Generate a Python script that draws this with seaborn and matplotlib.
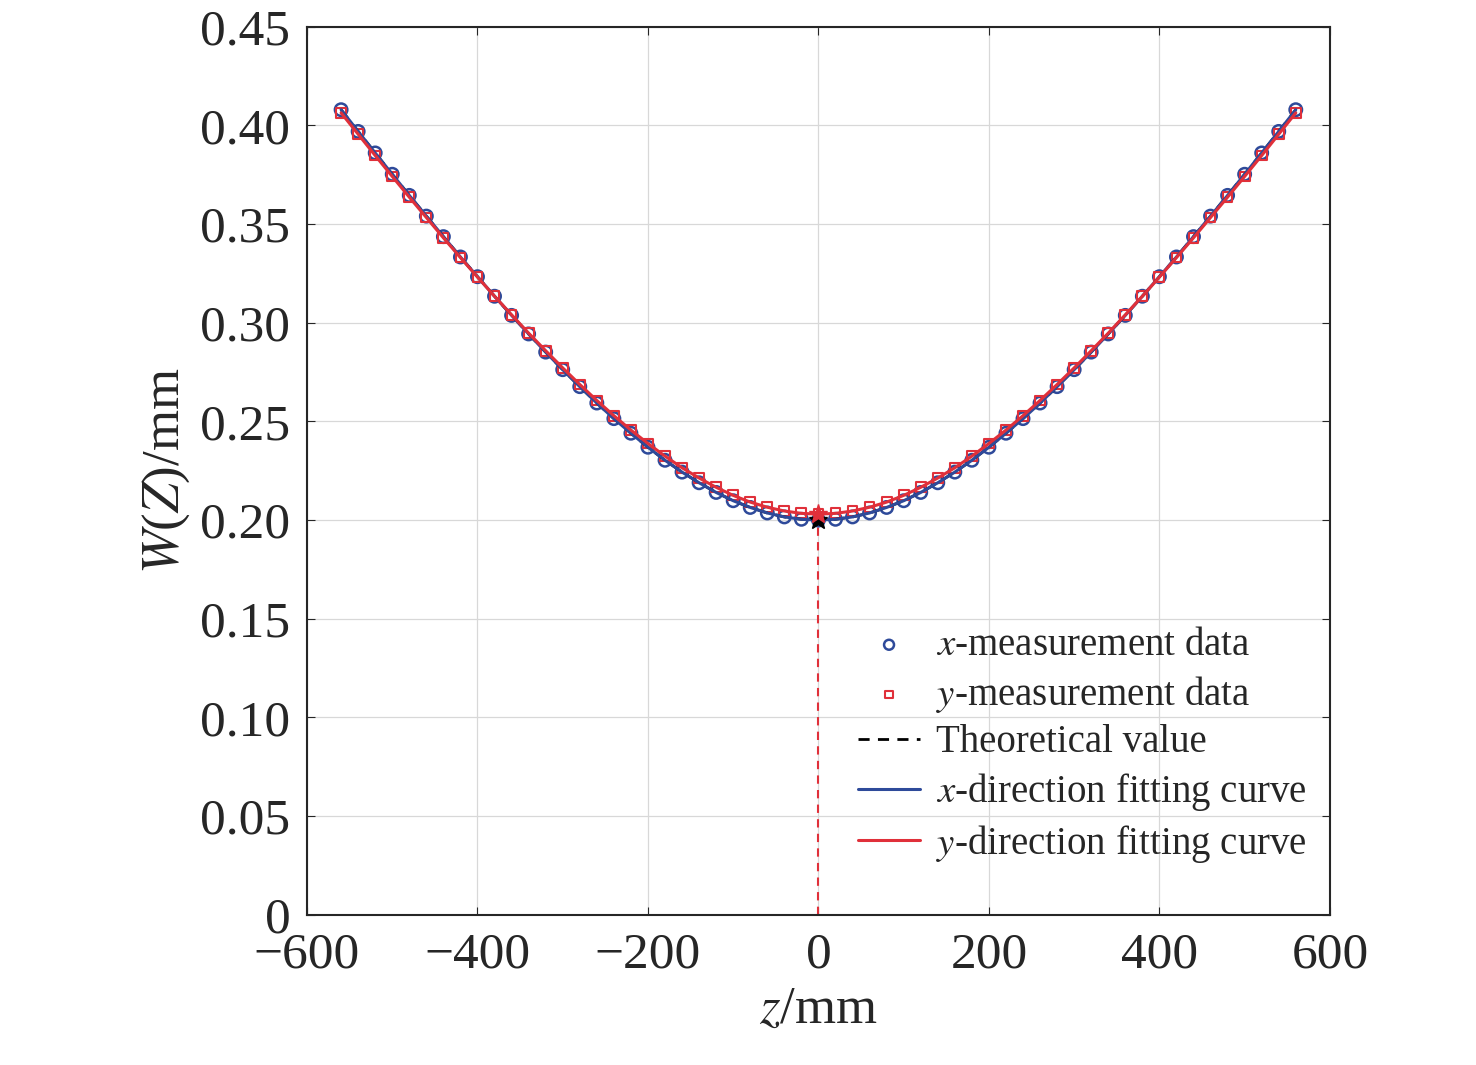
import numpy as np
import pandas as pd
import matplotlib
matplotlib.use("Agg")
import matplotlib.pyplot as plt
import seaborn as sns

half_z = [0, 20, 40, 60, 80, 100, 120, 140, 160, 180, 200, 220, 240, 260, 280,
          300, 320, 340, 360, 380, 400, 420, 440, 460, 480, 500, 520, 540, 560]
half_wx = [0.2000, 0.2004, 0.2016, 0.2036, 0.2064, 0.2098, 0.2140, 0.2189, 0.2243,
           0.2303, 0.2369, 0.2440, 0.2514, 0.2593, 0.2676, 0.2762, 0.2851, 0.2943,
           0.3037, 0.3134, 0.3233, 0.3333, 0.3436, 0.3540, 0.3645, 0.3752, 0.3860,
           0.3969, 0.4079]
half_wy = [0.2030, 0.2034, 0.2046, 0.2065, 0.2091, 0.2125, 0.2166, 0.2213, 0.2265,
           0.2324, 0.2388, 0.2456, 0.2529, 0.2606, 0.2687, 0.2771, 0.2858, 0.2947,
           0.3040, 0.3134, 0.3231, 0.3330, 0.3430, 0.3533, 0.3636, 0.3741, 0.3847,
           0.3955, 0.4063]

z = [-v for v in half_z[:0:-1]] + half_z
wx = half_wx[:0:-1] + half_wx
wy = half_wy[:0:-1] + half_wy
df = pd.DataFrame({"z": z, "wx": wx, "wy": wy})

sns.set_style("ticks")
plt.rcParams["font.family"] = ["Liberation Serif", "DejaVu Serif"]
plt.rcParams["mathtext.fontset"] = "stix"
plt.rcParams["font.size"] = 27

blue = "#2e4a9a"
red = "#e0303a"

fig = plt.figure(figsize=(14.76, 10.65), dpi=100)
ax = fig.add_axes([0.208, 0.141, 0.693, 0.834])

sns.scatterplot(data=df, x="z", y="wx", ax=ax, marker="o", s=80, facecolor="none",
                edgecolor=blue, linewidth=1.8, label=r"$x$-measurement data", zorder=3)
sns.scatterplot(data=df, x="z", y="wy", ax=ax, marker="s", s=50, facecolor="none",
                edgecolor=red, linewidth=1.5, label=r"$y$-measurement data", zorder=3)
sns.lineplot(data=df, x="z", y="wx", ax=ax, color="black", linestyle=(0, (4, 3)),
             linewidth=2, label="Theoretical value", zorder=4)
sns.lineplot(data=df, x="z", y="wx", ax=ax, color=blue, linewidth=2.2,
             label=r"$x$-direction fitting curve", zorder=4)
sns.lineplot(data=df, x="z", y="wy", ax=ax, color=red, linewidth=2.2,
             label=r"$y$-direction fitting curve", zorder=5)

ax.plot([0, 0], [0, min(wy)], color=red, linestyle=(0, (4, 3)), linewidth=1.5)
ax.plot([0], [min(wx)], marker="*", color="black", markersize=14, zorder=6)
ax.plot([0], [min(wy)], marker="*", color=red, markersize=14, zorder=6)

ax.set_xlim(-600, 600)
ax.set_ylim(0, 0.45)
ax.set_xticks(np.arange(-600, 601, 200))
ax.set_yticks(np.arange(0, 0.451, 0.05))
ax.set_xticklabels(["\u2212600", "\u2212400", "\u2212200", "0", "200", "400", "600"])
ax.set_yticklabels(["0"] + [f"{v:.2f}" for v in np.arange(0.05, 0.451, 0.05)])
ax.tick_params(direction="in", length=6, labelsize=37, top=True, right=True, pad=12)
ax.grid(True, color="#d8d8d8", linewidth=0.9)
for s in ax.spines.values():
    s.set_linewidth(1.5)
ax.set_xlabel(r"$z$/mm", fontsize=38, labelpad=6)
ax.set_ylabel(r"$W$($Z$)/mm", fontsize=38, labelpad=6)

ax.legend(loc="lower right", frameon=False, fontsize=28, handlelength=1.6,
          handletextpad=0.4, markerscale=0.8, borderaxespad=0.2,
          labelspacing=0.25, bbox_to_anchor=(1.0, 0.03))

fig.savefig("out.png", dpi=100)
